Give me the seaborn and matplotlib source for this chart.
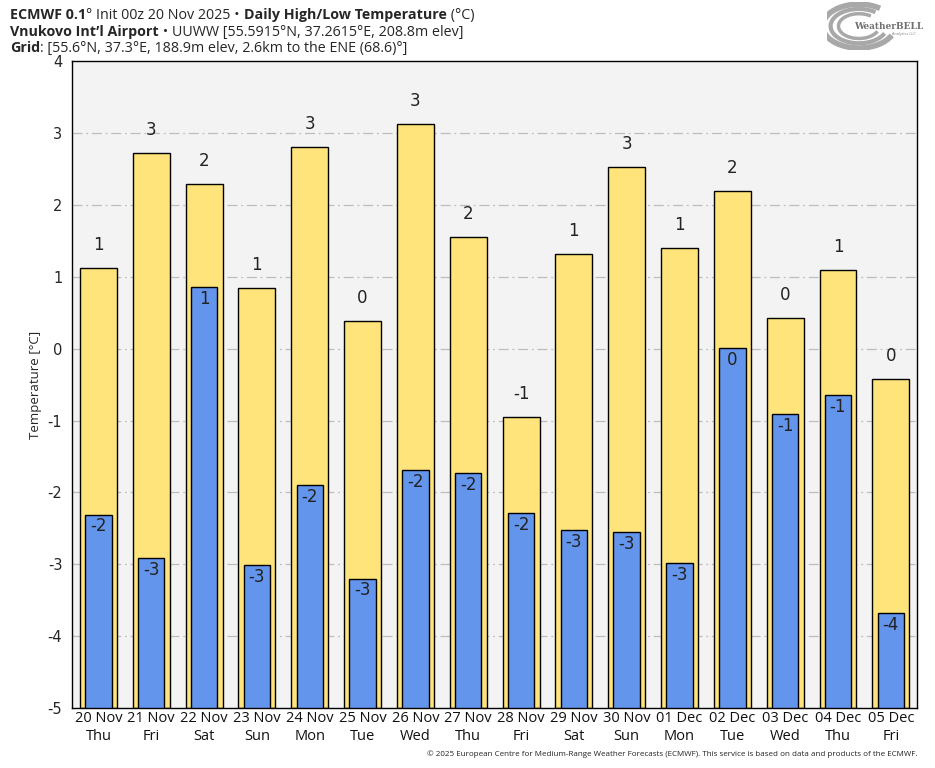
"""
ECMWF daily high/low temperature chart for Vnukovo.
"""

import numpy as np
import pandas as pd
import matplotlib
matplotlib.use("Agg")
import matplotlib.pyplot as plt
import matplotlib.patches as mpatches
import seaborn as sns

# data
dates = ['20 Nov', '21 Nov', '22 Nov', '23 Nov', '24 Nov', '25 Nov', '26 Nov', '27 Nov',
         '28 Nov', '29 Nov', '30 Nov', '01 Dec', '02 Dec', '03 Dec', '04 Dec', '05 Dec']
weekdays = ['Thu', 'Fri', 'Sat', 'Sun', 'Mon', 'Tue', 'Wed', 'Thu',
            'Fri', 'Sat', 'Sun', 'Mon', 'Tue', 'Wed', 'Thu', 'Fri']
highs = [1.12, 2.72, 2.29, 0.84, 2.80, 0.38, 3.12, 1.55,
         -0.95, 1.32, 2.53, 1.40, 2.19, 0.43, 1.09, -0.42]
lows = [-2.31, -2.91, 0.86, -3.01, -1.90, -3.20, -1.69, -1.73,
        -2.29, -2.52, -2.55, -2.98, 0.01, -0.91, -0.65, -3.68]
y_ticks = [-5, -4, -3, -2, -1, 0, 1, 2, 3, 4]

YMIN, YMAX = -5, 4
HIGH_COLOR = '#FFE37B'
LOW_COLOR = '#6495ED'
TEXT_FONT = ['Open Sans', 'DejaVu Sans']

sns.set_style("white")
plt.rcParams['font.family'] = ['DejaVu Sans']

labels = [f'{d}\n{w}' for d, w in zip(dates, weekdays)]
df = pd.DataFrame({'day': labels, 'high': highs, 'low': lows})
# bars rise from the bottom of the axis
df['high_h'] = df['high'] - YMIN
df['low_h'] = df['low'] - YMIN

fig = plt.figure(figsize=(9.35, 7.68), dpi=100)
ax = fig.add_axes([0.077, 0.078, 0.904, 0.8425])
ax.set_facecolor('#F3F3F3')

sns.barplot(data=df, x='day', y='high_h', color=HIGH_COLOR, saturation=1,
            width=0.7, edgecolor='black', linewidth=1, bottom=YMIN, ax=ax, zorder=2)
sns.barplot(data=df, x='day', y='low_h', color=LOW_COLOR, saturation=1,
            width=0.5, edgecolor='black', linewidth=1, bottom=YMIN, ax=ax, zorder=3)

ax.set_ylim(YMIN, YMAX)
ax.set_xlim(-0.5, len(dates) - 0.5)
ax.set_yticks(y_ticks)
ax.set_yticklabels([str(t) for t in y_ticks], fontsize=10.5)
ax.set_xticks(range(len(labels)))
ax.set_xticklabels(labels, family=TEXT_FONT, fontsize=10.5, linespacing=1.3,
                   color='#111111')
ax.set_xlabel('')
ax.set_ylabel('Temperature [°C]', family=TEXT_FONT, fontsize=9.5)
ax.tick_params(axis='y', length=5, width=1, color='black', pad=2)
ax.tick_params(axis='x', length=0, pad=2)
for t in y_ticks[1:-1]:
    ax.axhline(t, color='#BDBDBD', lw=0.9, ls='-.', dashes=(8, 3, 1.5, 3), zorder=1)
for sp in ax.spines.values():
    sp.set_color('black')
    sp.set_linewidth(1)

# value labels
for i, (h, l) in enumerate(zip(highs, lows)):
    ax.annotate(f'{round(h):d}', (i, h), xytext=(0, 10), textcoords='offset points',
                ha='center', va='bottom', fontsize=12, color='#222222', zorder=5)
    ax.annotate(f'{round(l):d}', (i, l), xytext=(0, -2), textcoords='offset points',
                ha='center', va='top', fontsize=12, color='#222222', zorder=5)


def rich_line(x, y, parts, size=10.3):
    """Draw a line of text made of (string, weight) pieces."""
    renderer = fig.canvas.get_renderer()
    for s, w in parts:
        t = fig.text(x, y, s, fontsize=size, fontweight=w, family=TEXT_FONT,
                     ha='left', va='baseline')
        bb = t.get_window_extent(renderer=renderer)
        x += bb.width / fig.bbox.width


rich_line(0.011, 0.975, [('ECMWF 0.1', 'bold'), ('° Init 00z 20 Nov 2025 • ', 'normal'),
                         ('Daily High/Low Temperature', 'bold'), (' (°C)', 'normal')])
rich_line(0.011, 0.953, [('Vnukovo Int\u2019l Airport', 'bold'),
                         (' • UUWW [55.5915°N, 37.2615°E, 208.8m elev]', 'normal')])
rich_line(0.011, 0.932, [('Grid', 'bold'),
                         (': [55.6°N, 37.3°E, 188.9m elev, 2.6km to the ENE (68.6)°]', 'normal')])

# logo
lax = fig.add_axes([0.885, 0.935, 0.105, 0.062])
lax.set_xlim(0, 1)
lax.set_ylim(0, 1)
lax.axis('off')
for r, lw in [(0.46, 4), (0.36, 3), (0.26, 2.5)]:
    lax.add_patch(mpatches.Arc((0.32, 0.5), r * 1.6, r * 2, theta1=60, theta2=330,
                               color='#A8A8A8', lw=lw))
lax.text(0.62, 0.5, 'WeatherBELL', fontsize=6.5, family='DejaVu Serif',
         fontweight='bold', color='#707070', ha='center', va='center')
lax.text(0.78, 0.33, 'Analytics LLC', fontsize=2.5, color='#888888', ha='center', va='center')

fig.text(0.981, 0.013,
         '© 2025 European Centre for Medium-Range Weather Forecasts (ECMWF). '
         'This service is based on data and products of the ECMWF.',
         fontsize=5.8, family=TEXT_FONT, ha='right', va='bottom', color='#222222')

fig.savefig('out.png', dpi=100)
